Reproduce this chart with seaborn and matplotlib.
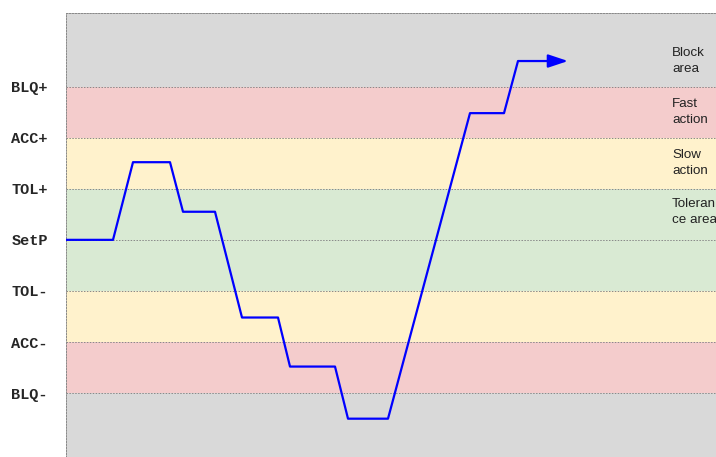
import matplotlib
matplotlib.use("Agg")
import pandas as pd
import seaborn as sns
import matplotlib.pyplot as plt

# Control level trace (x in arbitrary time units, y in threshold steps)
time = [0, 47, 67, 104, 117, 149, 176, 212, 224, 269, 282, 322, 404, 438, 452, 490]
level = [0, 0, 1.52, 1.52, 0.55, 0.55, -1.52, -1.52, -2.48, -2.48, -3.5, -3.5, 2.48, 2.48, 3.5, 3.5]
arrow_end = 502

# Threshold ticks
tick_vals = [3, 2, 1, 0, -1, -2, -3]
tick_labels = ['BLQ+', 'ACC+', 'TOL+', 'SetP', 'TOL-', 'ACC-', 'BLQ-']

# Coloured zones
zone_low = [3, 2, 1, -1, -2, -3, -5]
zone_high = [5, 3, 2, 1, -1, -2, -3]
zone_colors = ['#d9d9d9', '#f4cccc', '#fff2cc', '#d9ead3', '#fff2cc', '#f4cccc', '#d9d9d9']

# Zone labels on the right
zone_text = ['Block\narea', 'Fast\naction', 'Slow\naction', 'Toleran\nce area']
zone_text_y = [3.5, 2.5, 1.5, 0.55]

df = pd.DataFrame({'time': time, 'level': level})

sns.set_style('white')
fig = plt.figure(figsize=(7.16, 4.57), dpi=100)
ax = fig.add_axes([66 / 716, 0, 1 - 66 / 716, 1 - 13 / 457])

for lo, hi, c in zip(zone_low, zone_high, zone_colors):
    ax.axhspan(lo, hi, color=c, lw=0, zorder=0)

sns.lineplot(data=df, x='time', y='level', sort=False, color='#0000ff', lw=1.6, ax=ax, zorder=3)
ax.annotate('', xy=(arrow_end, level[-1]), xytext=(time[-1] - 2, level[-1]),
            arrowprops=dict(arrowstyle='-|>,head_length=0.6,head_width=0.2', color='#0000ff',
                            lw=1.6, mutation_scale=20, shrinkA=0, shrinkB=0), zorder=4)

for t, y in zip(zone_text, zone_text_y):
    ax.text(606, y, t, ha='left', va='center', fontsize=9.6, family='Liberation Sans',
            color='#222222', linespacing=1.45, clip_on=True)

ax.set_xlim(0, 650)
ax.set_ylim(-4.25, 4.44)
ax.set_xticks([])
ax.set_yticks(tick_vals)
ax.set_yticklabels(tick_labels, family='Liberation Mono', fontweight='bold', fontsize=11)
ax.tick_params(axis='y', length=0, pad=13)
ax.grid(axis='y', linestyle=(0, (1.5, 1.5)), color='#888888', lw=0.7, zorder=1)
ax.set_axisbelow(True)
ax.set_xlabel('')
ax.set_ylabel('')

for side in ['left', 'top']:
    ax.spines[side].set_linestyle((0, (1.5, 1.5)))
    ax.spines[side].set_color('#888888')
    ax.spines[side].set_linewidth(0.7)
ax.spines['right'].set_visible(False)
ax.spines['bottom'].set_visible(False)

plt.savefig('out.png', dpi=100)
